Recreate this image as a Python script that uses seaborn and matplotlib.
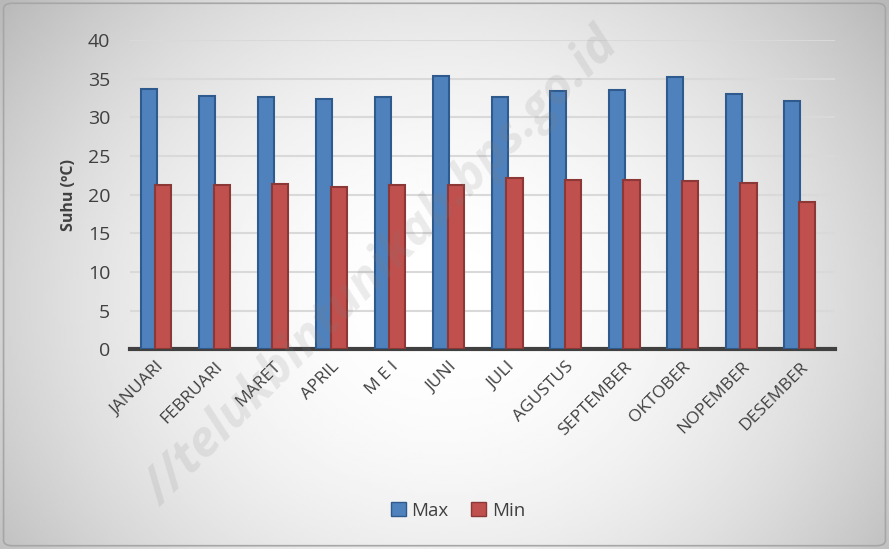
import numpy as np
import pandas as pd
import matplotlib
matplotlib.use("Agg")
import matplotlib.pyplot as plt
import seaborn as sns
from matplotlib.patches import FancyBboxPatch, Patch

# data
bulan = ["JANUARI", "FEBRUARI", "MARET", "APRIL", "M E I", "JUNI", "JULI",
         "AGUSTUS", "SEPTEMBER", "OKTOBER", "NOPEMBER", "DESEMBER"]
suhu_max = [33.7, 32.8, 32.6, 32.4, 32.6, 35.4, 32.6, 33.4, 33.6, 35.2, 33.0, 32.1]
suhu_min = [21.3, 21.3, 21.4, 21.0, 21.3, 21.3, 22.1, 21.9, 21.9, 21.7, 21.5, 19.1]

df = pd.DataFrame({"bulan": bulan * 2,
                   "suhu": suhu_max + suhu_min,
                   "seri": ["Max"] * len(bulan) + ["Min"] * len(bulan)})

sns.set_style("white")
plt.rcParams['font.family'] = ['Open Sans', 'DejaVu Sans']

fig = plt.figure(figsize=(8.89, 5.49), dpi=100)

# background gradient
bg = fig.add_axes([0, 0, 1, 1], zorder=-5)
yy, xx = np.mgrid[0:1:200j, 0:1:300j]
r = np.sqrt(((xx - 0.5) / 0.6) ** 2 + ((yy - 0.55) / 0.85) ** 2)
shade = 1 - 0.25 * np.clip(r, 0, 1.1) ** 2
bg.imshow(shade, cmap="gray", vmin=0, vmax=1, aspect="auto", extent=[0, 1, 0, 1])
bg.set_axis_off()
fig.patches.append(FancyBboxPatch((0.004, 0.006), 0.992, 0.988,
                                  boxstyle="round,pad=0,rounding_size=0.01",
                                  transform=fig.transFigure, fill=False,
                                  edgecolor="#A6A6A6", linewidth=1.2))

ax = fig.add_axes([0.146, 0.364, 0.793, 0.563])
ax.patch.set_alpha(0)

pal = {"Max": "#4F81BD", "Min": "#C0504D"}
sns.barplot(data=df, x="bulan", y="suhu", hue="seri", palette=pal, ax=ax,
            width=0.5, gap=-0.1, saturation=1, legend=False, zorder=3)

for i, p in enumerate(ax.patches):
    col = "#2F5A8E" if i < len(bulan) else "#8C3836"
    p.set_edgecolor(col)
    p.set_linewidth(1.5)

ax.set_ylim(0, 40)
ax.set_xlim(-0.45, 11.6)
ax.set_yticks(range(0, 41, 5))
ax.yaxis.grid(True, color="#D9D9D9", linewidth=1.5, zorder=0)
ax.set_axisbelow(True)
for s in ["top", "right", "left"]:
    ax.spines[s].set_visible(False)
ax.spines["bottom"].set_color("#404040")
ax.spines["bottom"].set_linewidth(3)
ax.tick_params(axis="y", labelsize=14, colors="#404040", length=0, pad=14)
ax.tick_params(axis="x", length=0, pad=7)
ax.set_xticks(range(len(bulan)))
ax.set_xticklabels(bulan, rotation=45, ha="right", rotation_mode="anchor",
                   fontsize=12.5, color="#404040")
ax.set_xlabel("")
ax.set_ylabel("Suhu (ºC)", fontsize=11.5, fontweight="bold", color="#404040", labelpad=8)

handles = [Patch(facecolor="#4F81BD", edgecolor="#2F5A8E", label="Max"),
           Patch(facecolor="#C0504D", edgecolor="#8C3836", label="Min")]
fig.legend(handles=handles, loc="center", bbox_to_anchor=(0.515, 0.07), ncol=2,
           frameon=False, fontsize=13.5, handlelength=0.8, handleheight=0.8,
           handletextpad=0.3, columnspacing=1.2, labelcolor="#404040")

# watermark
fig.text(0.43, 0.51, "//telukbintunikab.bps.go.id", rotation=45, fontsize=36,
         fontweight="bold", color="#7F7F7F", alpha=0.15, ha="center", va="center",
         fontstyle="italic")

fig.savefig("out.png", dpi=100)
